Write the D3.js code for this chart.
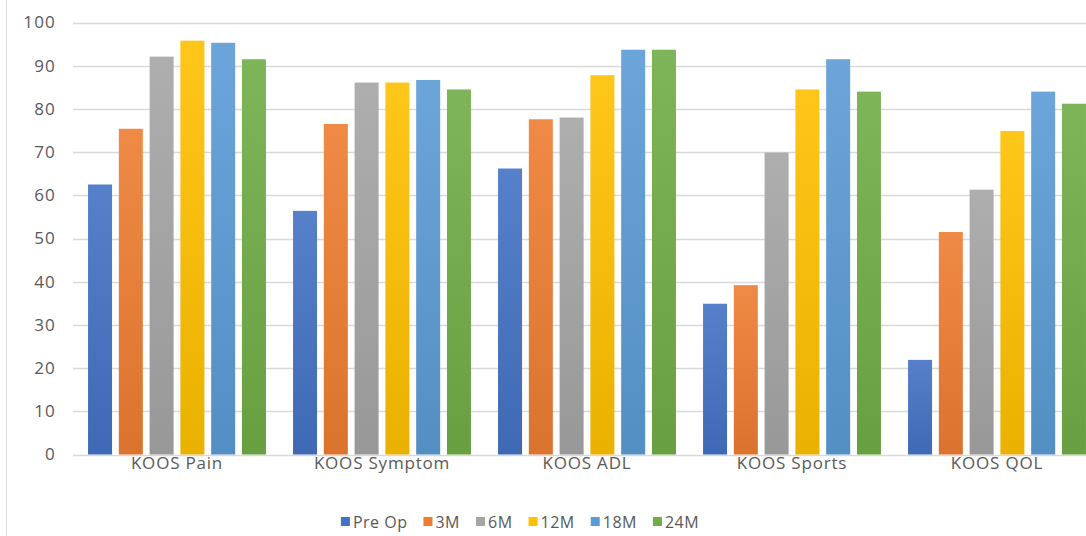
<!DOCTYPE html>
<html>
<head>
<meta charset="utf-8">
<script src="https://cdn.jsdelivr.net/npm/d3@7"></script>
<style>
  html, body { margin: 0; padding: 0; background: #fff; }
  svg { display: block; font-family: "Open Sans", sans-serif; }
</style>
</head>
<body>
<svg id="chart" width="1086" height="536"></svg>
<script>
// KOOS subscale scores at each follow-up time point
const categories = ["KOOS Pain", "KOOS Symptom", "KOOS ADL", "KOOS Sports", "KOOS QOL"];
const seriesNames = ["Pre Op", "3M", "6M", "12M", "18M", "24M"];
const preOp = [62.5, 56.4, 66.2, 34.9, 21.9];
const m3    = [75.4, 76.5, 77.6, 39.2, 51.5];
const m6    = [92.1, 86.1, 78.0, 69.9, 61.3];
const m12   = [95.8, 86.1, 87.8, 84.5, 74.9];
const m18   = [95.3, 86.7, 93.7, 91.5, 84.0];
const m24   = [91.5, 84.5, 93.7, 84.0, 81.2];
const yTicks = [0, 10, 20, 30, 40, 50, 60, 70, 80, 90, 100];
const colors = ["#4472C4", "#ED7D31", "#A5A5A5", "#FFC000", "#5B9BD5", "#70AD47"];

const seriesValues = [preOp, m3, m6, m12, m18, m24];

const svg = d3.select("#chart");
const W = 1086, H = 536;
const plot = { left: 74.5, right: 1099.5, top: 22.5, bottom: 454.5 };

// chart frame edge on the left
svg.append("line")
  .attr("x1", 6.5).attr("x2", 6.5).attr("y1", 0).attr("y2", H)
  .attr("stroke", "#d9d9d9").attr("stroke-width", 1);

const x0 = d3.scaleBand().domain(categories).range([plot.left, plot.right]).paddingInner(0).paddingOuter(0);
const x1 = d3.scaleBand().domain(seriesNames).range([0, x0.bandwidth()]).paddingInner(0.22).paddingOuter(0.44);
const y = d3.scaleLinear().domain([0, 100]).range([plot.bottom, plot.top]);

// gradients: lighter at the top, deeper at the bottom
const defs = svg.append("defs");
colors.forEach((c, i) => {
  const g = defs.append("linearGradient").attr("id", "grad" + i)
    .attr("x1", 0).attr("y1", 0).attr("x2", 0).attr("y2", 1);
  g.append("stop").attr("offset", "0%").attr("stop-color", d3.interpolateRgb(c, "#ffffff")(0.1));
  g.append("stop").attr("offset", "100%").attr("stop-color", d3.interpolateRgb(c, "#000000")(0.08));
});

// horizontal gridlines
svg.append("g").selectAll("line").data(yTicks).join("line")
  .attr("x1", 73).attr("x2", W)
  .attr("y1", d => Math.round(y(d)) + 0.5).attr("y2", d => Math.round(y(d)) + 0.5)
  .attr("stroke", "#d9d9d9").attr("stroke-width", 1.3);

// y tick labels
svg.append("g").selectAll("text").data(yTicks).join("text")
  .attr("x", 56).attr("y", d => y(d))
  .attr("dy", "0.35em").attr("text-anchor", "end")
  .attr("fill", "#595959").attr("font-size", 17).attr("letter-spacing", 1.2)
  .text(d => d);

// bars
const groups = svg.append("g").selectAll("g").data(categories).join("g")
  .attr("transform", d => `translate(${x0(d)},0)`);

groups.selectAll("rect")
  .data((cat, ci) => seriesNames.map((s, si) => ({ s, si, v: seriesValues[si][ci] })))
  .join("rect")
  .attr("x", d => x1(d.s))
  .attr("width", x1.bandwidth())
  .attr("y", d => y(d.v))
  .attr("height", d => y(0) - y(d.v))
  .attr("fill", d => `url(#grad${d.si})`);

// category labels
svg.append("g").selectAll("text").data(categories).join("text")
  .attr("x", d => x0(d) + x0.bandwidth() / 2)
  .attr("y", 463)
  .attr("dy", "0.35em").attr("text-anchor", "middle")
  .attr("fill", "#595959").attr("font-size", 17).attr("letter-spacing", 0.8)
  .text(d => d);

// legend
const legend = svg.append("g");
let lx = 0;
seriesNames.forEach((name, i) => {
  const item = legend.append("g").attr("transform", `translate(${lx},0)`);
  item.append("rect").attr("x", 0).attr("y", -5).attr("width", 9).attr("height", 9).attr("fill", colors[i]);
  const t = item.append("text").attr("x", 12).attr("y", 0).attr("dy", "0.35em")
    .attr("fill", "#595959").attr("font-size", 16).attr("letter-spacing", 0.5).text(name);
  lx += 12 + t.node().getComputedTextLength() + 16;
});
const legendWidth = lx - 16;
legend.attr("transform", `translate(${520 - legendWidth / 2},522)`);
</script>
</body>
</html>
